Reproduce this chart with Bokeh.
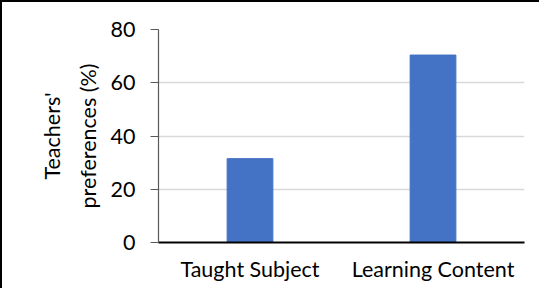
from bokeh.plotting import figure
from bokeh.models import Range1d, FactorRange, LinearAxis, FixedTicker, ColumnDataSource
from bokeh.embed import file_html
from bokeh.resources import INLINE

categories = ["Taught Subject", "Learning Content"]
values = [31.5, 70.4]
y_ticks = [0, 20, 40, 60, 80]
y_title_outer = "Teachers'"
y_title_inner = "preferences (%)"

FONT = "Lato"
FS = "21.5px"

source = ColumnDataSource(data=dict(cat=categories, val=values))

p = figure(width=539, height=288,
           x_range=FactorRange(*categories),
           y_range=Range1d(0, 80),
           output_backend="svg", toolbar_location=None)
p.min_border = 0
p.min_border_left = 156
p.min_border_right = 17
p.min_border_top = 27
p.min_border_bottom = 48
p.outline_line_color = None
p.background_fill_color = "white"
p.border_fill_color = "white"

p.vbar(x="cat", top="val", width=0.25, source=source,
       fill_color="#4472C4", line_color="#4472C4", line_width=1)

# grid
p.xgrid.grid_line_color = None
p.ygrid.grid_line_color = "#d9d9d9"
p.ygrid.grid_line_width = 1.5
p.ygrid.ticker = FixedTicker(ticks=y_ticks)

# y axis
p.yaxis.ticker = FixedTicker(ticks=y_ticks)
p.yaxis.axis_line_color = "#595959"
p.yaxis.axis_line_width = 1.2
p.yaxis.major_tick_line_color = "#595959"
p.yaxis.major_tick_line_width = 1.2
p.yaxis.major_tick_out = 8
p.yaxis.major_tick_in = 0
p.yaxis.minor_tick_line_color = None
p.yaxis.major_label_standoff = 15
p.yaxis.major_label_text_font = FONT
p.yaxis.major_label_text_font_size = FS
p.yaxis.major_label_text_color = "black"
p.yaxis.axis_label = y_title_inner
p.yaxis.axis_label_standoff = 7
p.yaxis.axis_label_text_font = FONT
p.yaxis.axis_label_text_font_size = FS
p.yaxis.axis_label_text_font_style = "normal"
p.yaxis.axis_label_text_color = "black"

outer = LinearAxis(ticker=FixedTicker(ticks=[]), axis_line_color=None,
                   major_tick_line_color=None, minor_tick_line_color=None,
                   major_tick_out=0, major_tick_in=0, major_label_standoff=0,
                   axis_label=y_title_outer, axis_label_standoff=7,
                   axis_label_text_font=FONT, axis_label_text_font_size=FS,
                   axis_label_text_font_style="normal", axis_label_text_color="black")
p.add_layout(outer, "left")

# x axis
p.xaxis.axis_line_color = "black"
p.xaxis.axis_line_width = 2
p.xaxis.major_tick_line_color = None
p.xaxis.minor_tick_line_color = None
p.xaxis.major_tick_out = 0
p.xaxis.major_label_standoff = 13
p.xaxis.major_label_text_font = FONT
p.xaxis.major_label_text_font_size = FS
p.xaxis.major_label_text_color = "black"

p.styles = {"border-left": "2px solid black", "border-top": "2px solid black"}

open("out.html", "w").write(file_html(p, INLINE))
